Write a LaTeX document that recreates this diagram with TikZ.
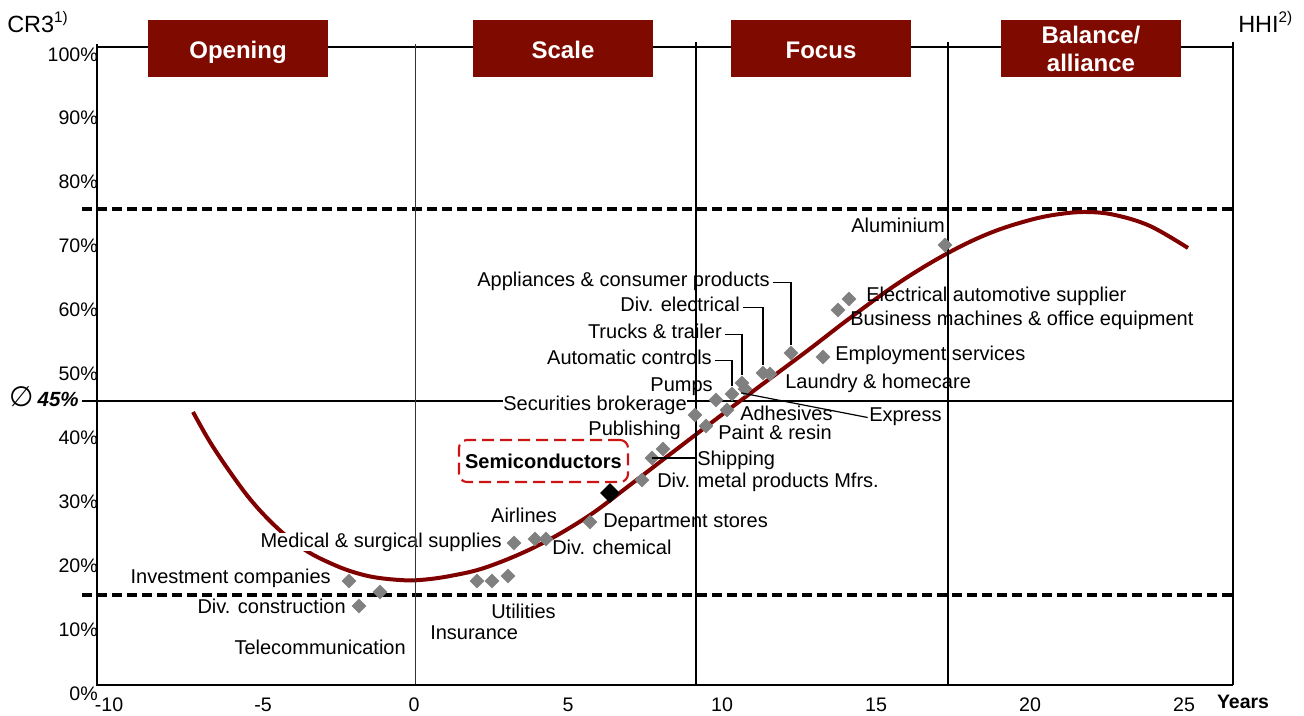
\documentclass[tikz,border=0pt]{standalone}
\usepackage{fontspec}
\setmainfont{Liberation Sans}
\newfontfamily\djv{DejaVu Sans}
\usetikzlibrary{shapes.geometric}
\definecolor{phasered}{RGB}{127,10,0}
\definecolor{curvered}{RGB}{128,0,0}
\definecolor{dgray}{RGB}{128,128,128}
\definecolor{semired}{RGB}{204,20,20}
\begin{document}
\begin{tikzpicture}[x=0.75pt,y=-0.75pt,
  lbl/.style={inner sep=0pt, font=\fontsize{15}{18}\selectfont},
  wlbl/.style={lbl, fill=white},
  ticklbl/.style={inner sep=0pt, font=\fontsize{14.7}{17}\selectfont},
  phase/.style={fill=phasered, text=white, minimum width=135pt, minimum height=42.75pt, inner sep=0pt, font=\fontsize{18}{21}\selectfont\bfseries, align=center},
  phaseone/.style={phase, text height=18pt, text depth=3.6pt},
  dia/.style={diamond, fill=dgray, inner sep=0pt, minimum size=11.25pt},
  bdia/.style={diamond, fill=black, inner sep=0pt, minimum size=15pt},
  leader/.style={line width=0.9pt},
  dashline/.style={line width=2.9pt, dash pattern=on 7.5pt off 3.75pt},
  gridline/.style={line width=1.1pt},
  axisline/.style={line width=1.6pt},
]
\useasboundingbox (0,0) rectangle (1304,715);

% horizontal reference lines
\draw[line width=0.8pt] (97,47) -- (1233,47);
\draw[dashline] (82,209) -- (1233,209);
\draw[dashline] (82,595) -- (1233,595);
\draw[line width=1.6pt] (82,401) -- (1233,401);

% S-curve
\draw[curvered, line width=3pt] plot[smooth, tension=0.6] coordinates {
 (193,412) (210,442) (230,472) (250,499) (270,521) (290,539) (310,553)
 (330,563) (350,571) (373,577) (400,580) (420,580) (450,576) (487,567)
 (537,546) (587,517) (630,485) (673,452) (740,401) (807,351) (850,318)
 (900,282) (948,253) (990,233) (1030,220) (1060,214) (1087,212)
 (1115,215) (1150,226) (1188,248)};

% labels with white background
\node[wlbl, anchor=mid east] (medl) at (502,543.5) {Medical \& surgical supplies};
\node[wlbl, anchor=mid east] (secl) at (687,406.5) {Securities brokerage};

% vertical lines and axes
\draw[line width=0.6pt, black!80] (415,44) -- (415,685);
\draw[gridline] (696,42) -- (696,685);
\draw[gridline] (948,42) -- (948,685);
\draw[gridline] (1233,42) -- (1233,685);
\draw[axisline] (97,44) -- (97,685) -- (1233,685);

% phase boxes
\node[phaseone] (ph1) at (238,48.5) {Opening};
\node[phaseone] (ph2) at (563,48.5) {Scale};
\node[phaseone] (ph3) at (821,48.5) {Focus};
\node[phase] (ph4) at (1091,48.5) {Balance/\\alliance};

% axis titles
\node[inner sep=0pt, anchor=base west, font=\fontsize{17.6}{20}\selectfont] (cr3) at (7,32.5) {CR3\raisebox{0.42em}{\fontsize{11.5}{12}\selectfont 1)}};
\node[inner sep=0pt, anchor=base west, font=\fontsize{17.6}{20}\selectfont] (hhi) at (1238,32.5) {HHI\raisebox{0.42em}{\fontsize{11.5}{12}\selectfont 2)}};
\node[inner sep=0pt, anchor=mid east, font=\fontsize{15.4}{18}\selectfont] (avg) at (79,402.5) {{\djv\fontsize{21}{22}\selectfont\itshape ∅}\hspace{3pt}{\bfseries\itshape 45\%}};

% tick labels
\foreach \k [evaluate=\k as \pc using int(\k*10)] in {0,...,10}
  \node[ticklbl, anchor=mid east] (yl\k) at (98,{696.5-63.9*\k}) {\pc\%};
\foreach \t [evaluate=\t as \xx using {414+30.8*\t+(\t<0?3:0)}] in {-10,-5,...,25}
  \node[ticklbl, anchor=mid] (xl\t) at (\xx,707.5) {\t};
\node[ticklbl, anchor=mid, font=\fontsize{14.6}{17}\selectfont\bfseries] (yrs) at (1243,704.5) {Years};

% data points
\node[dia] (d1) at (349,581) {};
\node[dia] (d2) at (380,592) {};
\node[dia] (d3) at (359,606) {};
\node[dia] (d4) at (477,581) {};
\node[dia] (d5) at (492,581) {};
\node[dia] (d6) at (508,576) {};
\node[dia] (d7) at (514,543) {};
\node[dia] (d8) at (535,539) {};
\node[dia] (d9) at (546,539) {};
\node[dia] (d10) at (590,522) {};
\node[dia] (d11) at (642,480) {};
\node[dia] (d12) at (652,458) {};
\node[dia] (d13) at (663,449) {};
\node[dia] (d14) at (695,415) {};
\node[dia] (d15) at (706,426) {};
\node[dia] (d16) at (716,400) {};
\node[dia] (d17) at (727,410) {};
\node[dia] (d18) at (732,394) {};
\node[dia] (d19) at (742,383) {};
\node[dia] (d20) at (745,389) {};
\node[dia] (d21) at (763,373) {};
\node[dia] (d22) at (770,374) {};
\node[dia] (d23) at (791,353) {};
\node[dia] (d24) at (823,357) {};
\node[dia] (d25) at (838,310) {};
\node[dia] (d26) at (849,299) {};
\node[dia] (d27) at (945,245) {};
\node[bdia] (db) at (610,493) {};

% labels
\node[lbl, anchor=mid east] (inv) at (331,579.5) {Investment companies};
\node[lbl, anchor=mid east] (divc) at (346,609.5) {Div. construction};
\node[lbl, anchor=mid east] (tel) at (406,650.5) {Telecommunication};
\node[lbl, anchor=mid] (air) at (524,518.5) {Airlines};
\node[lbl, anchor=mid west] (chem) at (552,550.5) {Div. chemical};
\node[lbl, anchor=mid west] (util) at (491,614.5) {Utilities};
\node[lbl, anchor=mid west] (ins) at (430,635.5) {Insurance};
\node[lbl, anchor=mid west] (dept) at (603,523.5) {Department stores};
\node[lbl, anchor=mid west] (metal) at (657,483.5) {Div. metal products Mfrs.};
\node[lbl, anchor=mid west] (ship) at (697,461.5) {Shipping};
\node[lbl, anchor=mid east] (pub) at (681,431.5) {Publishing};
\node[lbl, anchor=mid west] (paint) at (718,435.5) {Paint \& resin};
\node[lbl, anchor=mid west] (adh) at (740,416.5) {Adhesives};
\node[lbl, anchor=mid west] (expr) at (869,417.5) {Express};
\node[lbl, anchor=mid east] (pumps) at (713,387.5) {Pumps};
\node[lbl, anchor=mid east] (auto) at (712,360.5) {Automatic controls};
\node[lbl, anchor=mid east] (truck) at (722,334.5) {Trucks \& trailer};
\node[lbl, anchor=mid east] (elec) at (740,307.5) {Div. electrical};
\node[lbl, anchor=mid east] (appl) at (770,282.5) {Appliances \& consumer products};
\node[lbl, anchor=mid west] (laund) at (785,384.5) {Laundry \& homecare};
\node[lbl, anchor=mid west] (emp) at (835,356.5) {Employment services};
\node[lbl, anchor=mid west] (bus) at (850,321.5) {Business machines \& office equipment};
\node[lbl, anchor=mid west] (eauto) at (866,297.5) {Electrical automotive supplier};
\node[lbl, anchor=mid east] (alu) at (945,228.5) {Aluminium};

% highlighted label
\node[draw=semired, line width=1.6pt, dash pattern=on 9pt off 4.5pt, rounded corners=6pt,
  minimum width=126.75pt, minimum height=31.5pt, inner sep=0pt,
  font=\fontsize{15}{18}\selectfont\bfseries] (semi) at (543.5,461) {Semiconductors};

% leaders
\draw[leader] ([xshift=2pt]appl.mid east) -| (d23.north);
\draw[leader] ([xshift=2pt]elec.mid east) -| (d21.north);
\draw[leader] ([xshift=2pt]truck.mid east) -| (d19.north);
\draw[leader] ([xshift=2pt]auto.mid east) -| (d18.north);
\draw[leader] (d20.south west) -- ([xshift=-1pt]expr.mid west);
\draw[leader] (d12.center) -- ([xshift=-1pt]d12.center -| ship.west);
\end{tikzpicture}
\end{document}
